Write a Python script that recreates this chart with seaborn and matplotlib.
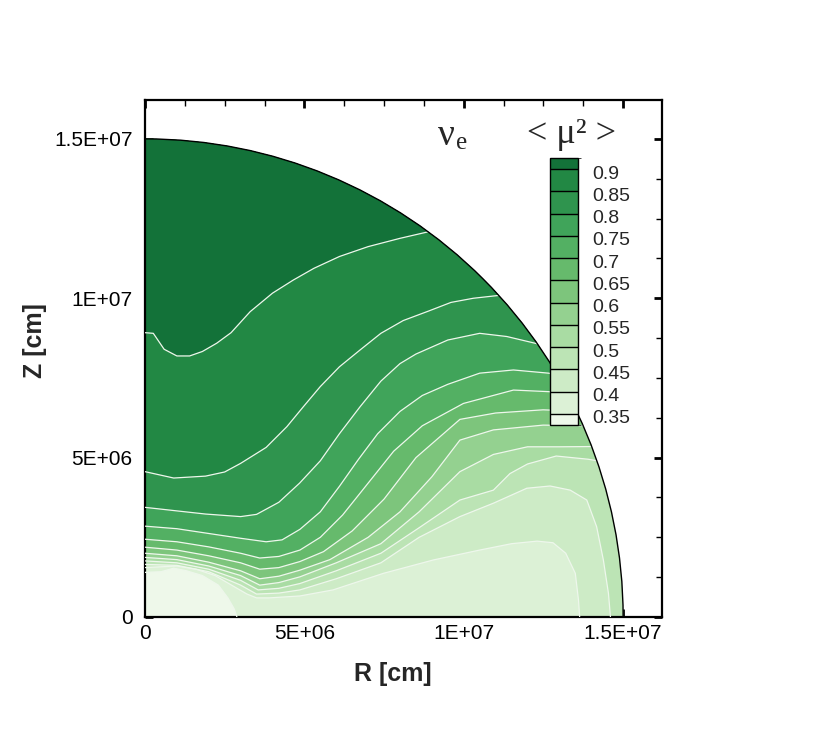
import matplotlib
matplotlib.use("Agg")
import matplotlib.pyplot as plt
import matplotlib.transforms as mtransforms
import numpy as np
import seaborn as sns
from matplotlib.cm import ScalarMappable
from matplotlib.colors import BoundaryNorm, ListedColormap
from matplotlib.patches import Arc, Wedge
from matplotlib.ticker import MultipleLocator

# contour levels of <mu^2>
levels = [0.35, 0.4, 0.45, 0.5, 0.55, 0.6, 0.65, 0.7, 0.75, 0.8, 0.85, 0.9]
level_labels = ["0.35", "0.4", "0.45", "0.5", "0.55", "0.6", "0.65", "0.7", "0.75", "0.8", "0.85", "0.9"]

# contour lines, R and Z in units of 1e6 cm
r35 = [0, 0.5, 0.9, 1.3, 1.8, 2.3, 2.6, 2.8, 2.95]
z35 = [1.40, 1.42, 1.53, 1.45, 1.3, 1.0, 0.6, 0.25, -0.2]
r40 = [0, 1.0, 1.6, 2.2, 2.8, 3.2, 3.5, 3.9, 4.86, 5.9, 7.48, 9.05, 10.5, 11.5, 12.3, 12.8, 13.2, 13.5, 13.6, 13.65]
z40 = [1.55, 1.6, 1.5, 1.3, 0.95, 0.72, 0.6, 0.6, 0.66, 0.85, 1.37, 1.79, 2.1, 2.3, 2.38, 2.33, 2.0, 1.37, 0.53, -0.2]
r45 = [0, 1.0, 2.0, 3.0, 3.5, 4.2, 4.86, 6.0, 7.4, 8.6, 9.88, 10.93, 11.98, 12.71, 13.34, 13.86, 14.17, 14.38, 14.54, 14.62]
z45 = [1.65, 1.62, 1.42, 1.0, 0.72, 0.75, 0.85, 1.2, 1.7, 2.5, 3.15, 3.57, 4.04, 4.11, 3.98, 3.67, 2.83, 1.79, 0.74, -0.2]
r50 = [0, 1.0, 2.0, 3.0, 3.55, 4.2, 4.86, 6.0, 7.4, 8.6, 9.88, 10.93, 11.45, 12.0, 12.9, 13.9, 14.5]
z50 = [1.76, 1.7, 1.5, 1.15, 0.85, 0.9, 1.05, 1.45, 2.0, 2.8, 3.67, 3.98, 4.5, 4.8, 5.05, 4.95, 4.85]
r55 = [0, 1.0, 2.0, 3.0, 3.6, 4.2, 4.86, 6.0, 7.4, 8.6, 9.88, 10.93, 12.0, 13.0, 14.3]
z55 = [1.87, 1.8, 1.6, 1.3, 1.0, 1.08, 1.26, 1.7, 2.3, 3.3, 4.56, 5.1, 5.34, 5.34, 5.35]
r60 = [0, 1.0, 2.0, 3.0, 3.6, 4.2, 4.86, 5.8, 7.0, 8.0, 9.0, 9.88, 10.93, 12.49, 14.0]
z60 = [2.0, 1.92, 1.72, 1.45, 1.2, 1.28, 1.47, 1.8, 2.5, 3.3, 4.4, 5.55, 5.87, 6.02, 6.0]
r65 = [0, 1.0, 2.0, 3.0, 3.6, 4.2, 4.86, 5.6, 6.5, 7.5, 8.5, 9.88, 11.0, 12.49, 13.8]
z65 = [2.19, 2.1, 1.92, 1.7, 1.5, 1.55, 1.74, 2.05, 2.7, 3.7, 5.0, 6.2, 6.4, 6.5, 6.45]
r70 = [0, 1.0, 2.0, 3.0, 3.6, 4.2, 4.86, 5.5, 6.2, 7.0, 7.8, 8.7, 9.99, 11.56, 12.66, 13.6]
z70 = [2.44, 2.36, 2.2, 2.0, 1.85, 1.9, 2.1, 2.5, 3.2, 4.2, 5.2, 6.0, 6.7, 7.12, 7.07, 7.0]
r75 = [0, 1.0, 2.0, 3.0, 3.8, 4.3, 4.86, 5.5, 6.1, 6.7, 7.3, 8.0, 8.7, 9.5, 10.5, 11.56, 12.66, 13.4]
z75 = [2.85, 2.77, 2.62, 2.47, 2.36, 2.42, 2.75, 3.3, 4.1, 4.95, 5.75, 6.45, 6.95, 7.3, 7.65, 7.75, 7.65, 7.5]
r80 = [0, 0.9, 1.9, 3.0, 3.5, 4.2, 4.85, 5.5, 6.1, 6.75, 7.4, 8.0, 8.5, 9.5, 10.5, 11.35, 12.4]
z80 = [3.44, 3.34, 3.23, 3.15, 3.22, 3.6, 4.2, 4.9, 5.75, 6.6, 7.4, 7.95, 8.25, 8.69, 8.9, 8.8, 8.55]
r85 = [0, 0.9, 1.9, 2.5, 3.0, 3.8, 4.45, 4.97, 5.5, 6.1, 6.75, 7.4, 8.1, 8.9, 9.6, 10.3, 11.2]
z85 = [4.56, 4.36, 4.42, 4.55, 4.82, 5.32, 5.97, 6.6, 7.23, 7.85, 8.38, 8.9, 9.3, 9.6, 9.87, 10.0, 10.1]
r90 = [0, 0.26, 0.6, 1.0, 1.4, 1.8, 2.25, 2.7, 3.3, 4.0, 4.65, 5.3, 6.1, 7.0, 8.0, 8.95]
z90 = [8.92, 8.9, 8.4, 8.19, 8.19, 8.33, 8.59, 8.92, 9.58, 10.16, 10.57, 10.94, 11.31, 11.62, 11.88, 12.1]

tick_values = [0, 5e6, 1e7, 1.5e7]
tick_labels = ["0", "5E+06", "1E+07", "1.5E+07"]

# band colours, lowest band (< 0.35) first
band_colors = ["#eef8ea", "#dcf1d6", "#cdebc6", "#bce4b5", "#a9dca3", "#94d190", "#7dc57c",
               "#66ba6c", "#53b063", "#40a45a", "#2f944e", "#228844", "#137239"]

radius = 1.5e7
unit = 1e6
contours = [(r35, z35), (r40, z40), (r45, z45), (r50, z50), (r55, z55), (r60, z60),
            (r65, z65), (r70, z70), (r75, z75), (r80, z80), (r85, z85), (r90, z90)]

sns.set_style("ticks")
plt.rcParams["font.family"] = ["Liberation Sans", "DejaVu Sans"]

fig = plt.figure(figsize=(8.3, 7.37), dpi=100)
ax = fig.add_axes([145 / 830, 120 / 737, 517 / 830, 517 / 737])

domain = Wedge((0, 0), radius, 0, 90, facecolor=band_colors[0], edgecolor="none", zorder=1)
ax.add_patch(domain)

# paint the region above each contour line, lowest level first
far = 2.6e7
for k, (r, z) in enumerate(contours):
    r = np.asarray(r) * unit
    z = np.asarray(z) * unit
    px = np.concatenate([r, [r[-1] * 1.6, far, far, 0]])
    pz = np.concatenate([z, [z[-1] * 1.6, z[-1] * 1.6, far, far]])
    patch = ax.fill(px, pz, color=band_colors[k + 1], lw=0, zorder=2)[0]
    patch.set_clip_path(domain)

for r, z in contours:
    line, = ax.plot(np.asarray(r) * unit, np.asarray(z) * unit, color="#eef7ec", lw=0.9, zorder=3)
    line.set_clip_path(domain)

ax.add_patch(Arc((0, 0), 2 * radius, 2 * radius, theta1=0, theta2=90, color="black", lw=1.0, zorder=4))

ax.set_xlim(0, 1.622e7)
ax.set_ylim(0, 1.622e7)
ax.set_xticks(tick_values, tick_labels)
ax.set_yticks(tick_values, tick_labels)
ax.xaxis.set_minor_locator(MultipleLocator(1.25e6))
ax.yaxis.set_minor_locator(MultipleLocator(1.25e6))
ax.tick_params(which="both", direction="in", top=True, right=True, labelsize=15, colors="black")
ax.tick_params(which="major", length=6, width=2)
ax.tick_params(which="minor", length=4, width=1)
ax.tick_params(axis="x", pad=5)
ax.tick_params(axis="y", pad=9)
for spine in ax.spines.values():
    spine.set_linewidth(1.6)
    spine.set_color("black")
ax.set_xlabel("R [cm]", fontsize=18, fontweight="bold")
ax.set_ylabel("Z [cm]", fontsize=18, fontweight="bold")
ax.xaxis.set_label_coords(0.48, -0.087)
ax.yaxis.set_label_coords(-0.19, 0.534)

# legend bar in the upper right, inside the frame
cax = fig.add_axes([550 / 830, (737 - 425) / 737, 28 / 830, 267 / 737])
bounds = [0.325] + levels + [0.925]
sm = ScalarMappable(norm=BoundaryNorm(bounds, len(bounds) - 1), cmap=ListedColormap(band_colors))
cb = fig.colorbar(sm, cax=cax, boundaries=bounds, ticks=levels, spacing="proportional", drawedges=True)
cb.ax.set_yticklabels(level_labels)
cb.ax.tick_params(length=0, labelsize=14, pad=10)
shift = mtransforms.ScaledTranslation(0, -0.03, fig.dpi_scale_trans)
for label in cb.ax.get_yticklabels():
    label.set_transform(label.get_transform() + shift)
cb.outline.set_linewidth(1.0)
cb.outline.set_edgecolor("black")
cb.dividers.set_color("black")
cb.dividers.set_linewidth(1.0)

serif = ["Liberation Serif", "DejaVu Serif"]
fig.text(438 / 830, 1 - 145 / 737, "ν", family=serif, fontsize=27, ha="left", va="baseline")
fig.text(456 / 830, 1 - 149 / 737, "e", family=serif, fontsize=18, ha="left", va="baseline")
fig.text(527 / 830, 1 - 143 / 737, "< μ² >", family=serif, fontsize=26, ha="left", va="baseline")

fig.savefig("out.png", dpi=100)
plt.close(fig)
